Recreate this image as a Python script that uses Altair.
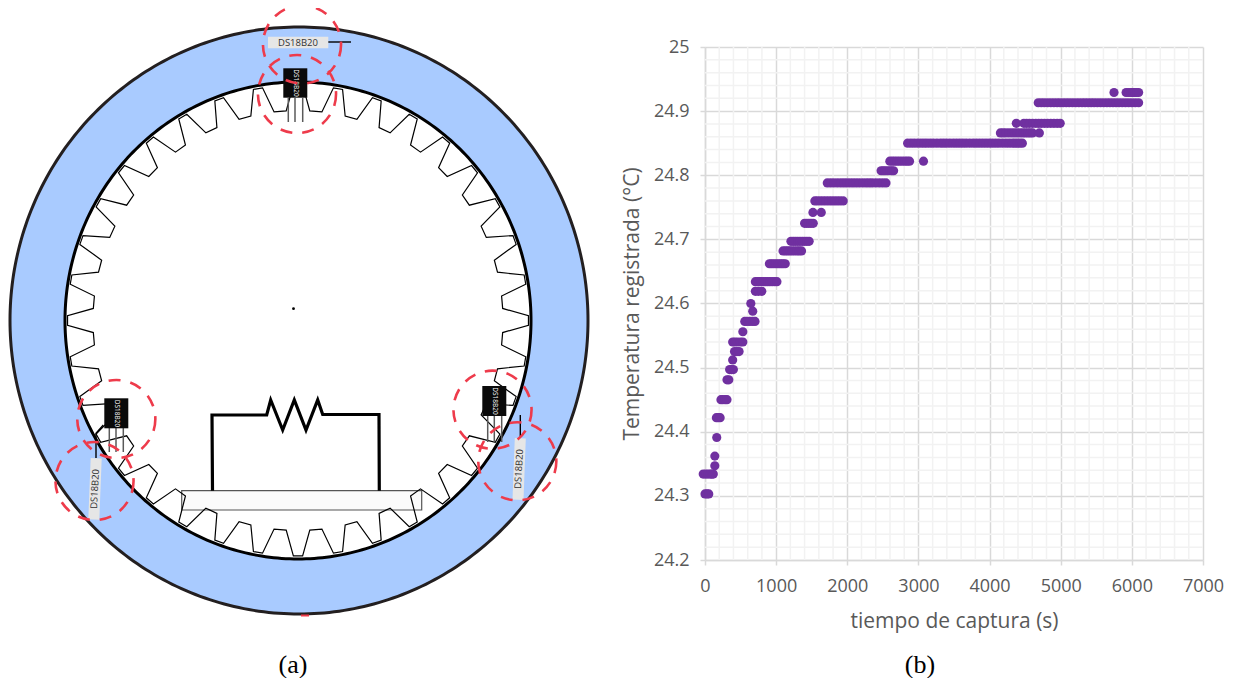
import numpy as np
import pandas as pd
import altair as alt

# ---------- panel (b): measured temperature ----------
LEVELS = [24.303, 24.334, 24.347, 24.362, 24.391, 24.422, 24.450, 24.481, 24.497, 24.512,
          24.525, 24.540, 24.556, 24.572, 24.588, 24.600, 24.619, 24.634, 24.662, 24.682,
          24.697, 24.725, 24.742, 24.760, 24.788, 24.807, 24.822, 24.850, 24.866, 24.881,
          24.913, 24.929]
TIMES = [
    [0, 28, 53],
    [-25, 10, 42, 75, 96, 117],
    [138],
    [138],
    [165],
    [160, 186, 213],
    [224, 250, 283, 309],
    [309, 335],
    [346, 372, 399],
    [389],
    [415, 448, 479],
    [389, 420, 455, 497, 532],
    [532],
    [559, 590, 628, 668, 703],
    [671],
    [644],
    [708, 750, 798],
    [708, 738, 765, 790, 820, 850, 880, 912, 945, 980, 1011],
    [905, 932, 960, 990, 1020, 1048, 1075, 1100, 1128],
    [1097, 1130, 1160, 1192, 1225, 1260, 1295, 1325, 1357],
    [1208, 1240, 1270, 1302, 1335, 1368, 1400, 1432, 1464],
    [1400, 1430, 1460, 1490, 1522],
    [1517, 1634],
    [1544, 1580, 1620, 1660, 1700, 1740, 1780, 1820, 1860, 1900, 1943],
    [1719, 1765, 1810, 1858, 1905, 1948, 1990, 2035, 2080, 2125, 2170, 2218, 2265, 2308, 2350, 2400, 2450, 2498, 2544],
    [2475, 2503, 2530, 2562, 2595, 2623, 2651],
    [2598, 2632, 2665, 2700, 2735, 2772, 2810, 2842, 2875, 3071],
    [2848, 2895, 2940, 2988, 3035, 3078, 3120, 3165, 3210, 3260, 3310, 3352, 3395, 3442, 3490, 3535,
     3580, 3625, 3670, 3720, 3770, 3815, 3860, 3905, 3950, 3995, 4040, 4085, 4130, 4180, 4230, 4275,
     4320, 4355, 4390, 4425, 4461],
    [4152, 4188, 4225, 4268, 4310, 4350, 4390, 4430, 4470, 4505, 4540, 4572, 4604, 4700],
    [4376, 4482, 4520, 4560, 4605, 4650, 4690, 4730, 4772, 4815, 4860, 4905, 4950, 4993],
    [4684, 4727, 4770, 4815, 4860, 4905, 4950, 4992, 5035, 5078, 5120, 5165, 5210, 5255, 5300, 5342,
     5385, 5428, 5470, 5515, 5560, 5605, 5650, 5692, 5735, 5778, 5820, 5865, 5910, 5955, 6000, 6048, 6095],
    [5749, 5919, 5955, 5990, 6015, 6040, 6068, 6095],
]
X_MAJOR = [0, 1000, 2000, 3000, 4000, 5000, 6000, 7000]
Y_MAJOR = [24.2, 24.3, 24.4, 24.5, 24.6, 24.7, 24.8, 24.9, 25.0]
X_MINOR = [v for v in range(0, 7001, 200) if v % 1000]
Y_MINOR = [round(24.2 + 0.02 * i, 2) for i in range(41) if i % 5]

# ---------- panel (a): schematic, in picture coordinates ----------
OUTER = (299, 320.5, 289, 293.5)
INNER = (298, 320.5, 233, 238.5)
GEAR_CENTER = (298, 320.5)
GEAR_ROOT = (230.5, 235.5)
GEAR_TIP = (205, 210)
TOOTH_PHASE = [-1.15, 1.15, 3.3, 6.7]
TOOTH_RADIUS = ["root", "root", "tip", "tip"]
N_TEETH = 36

PLATE = (181.7, 421.7, 490.7, 510)
CIRCUIT = [(212.5, 490.7), (212, 415), (266.7, 415), (270.7, 400), (282.7, 430), (294.3, 400),
           (306, 430), (317.7, 400), (322.7, 414.5), (379, 414.5), (379.3, 490.7)]
BLACK_BODY = [(283.3, 307.3, 68.3, 97.7), (104.3, 128.3, 398.3, 428.3), (482.3, 506.3, 386, 416)]
BODY_LABEL = [(295.5, 83), (116.5, 413.5), (494.5, 401)]
LEGS_X = [288.3, 295, 302.7, 109.3, 116, 123.3, 487.7, 494.3, 501.7]
LEGS_Y = [(98, 122)] * 3 + [(428, 452)] * 3 + [(416, 442)] * 3
WIRES = {
    "top": [(328, 42), (351, 42)],
    "left": [(103.3, 425), (96, 433.3), (96, 458)],
    "right": [(520.3, 415), (520.3, 438)],
}
GREY_TOP = (268, 328.3, 36.7, 48.3)
GREY_SIDE = [(96.2, 458.3, 93.8, 519.5), (520.3, 438.3, 518, 499.8)]
GREY_LABEL = [(298, 42.5, 0), (95, 489, 273), (519, 469, 273)]
DASH_CIRCLES = [(302, 44.5), (297, 94), (116.3, 419), (94.5, 481), (492.5, 409.7), (517.3, 461.3)]
CENTER_DOT = (293.5, 308.7)
RED_STUB = (301, 309, 615.5)
SENSOR_NAME = "DS18B20"
CAP_A = "(a)"
CAP_B = "(b)"

W_A, H = 606, 513
TOP, LEFT = 47, 8
xs = alt.X("x:Q", scale=alt.Scale(domain=[LEFT, LEFT + W_A], nice=False, zero=False), axis=None)
ys = alt.Y("y:Q", scale=alt.Scale(domain=[TOP + H, TOP], nice=False, zero=False), axis=None)
x2s = alt.X2("x2:Q")
y2s = alt.Y2("y2:Q")


def ellipse(c):
    t = np.linspace(0, 2 * np.pi, 361)
    return pd.DataFrame({"x": c[0] + c[2] * np.cos(t), "y": c[1] + c[3] * np.sin(t), "o": np.arange(361)})


def ellipse_fill(c):
    t = np.linspace(0, np.pi, 181)
    xv = c[0] + c[2] * np.cos(t)
    return pd.DataFrame({"x": xv, "y": c[1] - c[3] * np.sin(t), "y2": c[1] + c[3] * np.sin(t)})


def path(points, name="p"):
    return pd.DataFrame([{"x": p[0], "y": p[1], "o": i, "k": name} for i, p in enumerate(points)])


gear_pts = []
for k in range(N_TEETH):
    for ph, rk in zip(TOOTH_PHASE, TOOTH_RADIUS):
        a = np.radians(90 + 10 * k + ph)
        r = GEAR_ROOT if rk == "root" else GEAR_TIP
        gear_pts.append((GEAR_CENTER[0] - r[0] * np.cos(a), GEAR_CENTER[1] - r[1] * np.sin(a)))
gear_pts.append(gear_pts[0])


def line(df, **kw):
    return alt.Chart(df).mark_line(**kw).encode(x=xs, y=ys, order="o:Q", detail="k:N") if "k" in df else \
        alt.Chart(df).mark_line(**kw).encode(x=xs, y=ys, order="o:Q")


BLUE = "#A9CBFF"
layers = [
    alt.Chart(ellipse_fill(OUTER)).mark_area(color=BLUE, opacity=1).encode(x=xs, y=ys, y2=y2s),
    line(ellipse(OUTER), color="#231F20", strokeWidth=3),
    alt.Chart(ellipse_fill(INNER)).mark_area(color="white", opacity=1).encode(x=xs, y=ys, y2=y2s),
    line(ellipse(INNER), color="black", strokeWidth=3),
    alt.Chart(pd.DataFrame([dict(x=PLATE[0], x2=PLATE[1], y=PLATE[2], y2=PLATE[3])])).mark_rect(
        fill="#FBFBFB", stroke="#555555", strokeWidth=1.2).encode(x=xs, x2=x2s, y=ys, y2=y2s),
    line(path(gear_pts), color="black", strokeWidth=1.2, strokeJoin="miter"),
    line(path(CIRCUIT), color="black", strokeWidth=3.2, strokeJoin="miter"),
    alt.Chart(pd.DataFrame({"x": LEGS_X, "y": [v[0] for v in LEGS_Y], "y2": [v[1] for v in LEGS_Y]})).mark_rule(
        color="#5A5A5A", strokeWidth=1.5).encode(x=xs, y=ys, y2=y2s),
    line(pd.concat([path(v, k) for k, v in WIRES.items()]), color="black", strokeWidth=1.4),
    alt.Chart(pd.DataFrame([dict(x=GREY_TOP[0], x2=GREY_TOP[1], y=GREY_TOP[2], y2=GREY_TOP[3])])).mark_rect(
        fill="#E6E6E6").encode(x=xs, x2=x2s, y=ys, y2=y2s),
    alt.Chart(pd.DataFrame([dict(x=a, y=b, x2=c, y2=d) for a, b, c, d in GREY_SIDE])).mark_rule(
        color="#E6E6E6", strokeWidth=11).encode(x=xs, y=ys, x2=x2s, y2=y2s),
    alt.Chart(pd.DataFrame([dict(x=a, x2=b, y=c, y2=d) for a, b, c, d in BLACK_BODY])).mark_rect(
        fill="#0A0A0A").encode(x=xs, x2=x2s, y=ys, y2=y2s),
]
for x0, y0 in BODY_LABEL:
    layers.append(alt.Chart(pd.DataFrame([dict(x=x0, y=y0, t=SENSOR_NAME)])).mark_text(
        color="white", fontSize=6.5, angle=90, font="Open Sans").encode(x=xs, y=ys, text="t:N"))
for x0, y0, ang in GREY_LABEL:
    layers.append(alt.Chart(pd.DataFrame([dict(x=x0, y=y0, t=SENSOR_NAME)])).mark_text(
        color="#333333", fontSize=9.5, angle=ang, font="Open Sans").encode(x=xs, y=ys, text="t:N"))
layers += [
    alt.Chart(pd.DataFrame([dict(x=RED_STUB[0], x2=RED_STUB[1], y=RED_STUB[2])])).mark_rule(
        color="#EE3B4B", strokeWidth=2).encode(x=xs, x2=x2s, y=ys),
    alt.Chart(pd.DataFrame(DASH_CIRCLES, columns=["x", "y"])).mark_point(
        shape="circle", size=6100, filled=False, color="#EE3B4B", strokeWidth=2.6,
        strokeDash=[12, 10], opacity=1).encode(x=xs, y=ys),
    alt.Chart(pd.DataFrame([dict(x=CENTER_DOT[0], y=CENTER_DOT[1])])).mark_point(
        shape="circle", size=8, filled=True, color="black", opacity=1).encode(x=xs, y=ys),
    alt.Chart(pd.DataFrame([dict(x=293, y=665, t=CAP_A)])).mark_text(
        font="Liberation Serif", fontSize=26, color="black").encode(x=xs, y=ys, text="t:N"),
]
panel_a = alt.layer(*layers).properties(width=W_A, height=H)

# ---------- panel (b) ----------
pts = pd.DataFrame([{"t": t, "T": lv} for lv, ts in zip(LEVELS, TIMES) for t in ts])
X_SCALE = alt.Scale(domain=[0, 7000], nice=False, zero=False)
Y_SCALE = alt.Scale(domain=[24.2, 25], nice=False, zero=False)
MINOR = "#F2F2F2"
MAJOR = "#D9D9D9"
TXT = "#595959"
x_enc = alt.X("t:Q", scale=X_SCALE, title="tiempo de captura (s)",
              axis=alt.Axis(values=X_MAJOR, grid=True, gridColor=MAJOR, gridWidth=1.5, domainColor=MAJOR,
                            domainWidth=1.5, tickColor=MAJOR, tickWidth=1.5, tickSize=5, labelFont="Open Sans",
                            labelFontSize=18, labelColor=TXT, titleFont="Open Sans", titleFontSize=21,
                            titleFontWeight="normal", titleColor=TXT, titlePadding=15, labelPadding=12,
                            labelFlush=False, format="d"))
y_enc = alt.Y("T:Q", scale=Y_SCALE, title="Temperatura registrada (°C)",
              axis=alt.Axis(values=Y_MAJOR, grid=True, gridColor=MAJOR, gridWidth=1.5, domainColor=MAJOR,
                            domainWidth=1.5, tickColor=MAJOR, tickWidth=1.5, tickSize=5, labelFont="Open Sans",
                            labelFontSize=18, labelColor=TXT, titleFont="Open Sans", titleFontSize=21,
                            titleFontWeight="normal", titleColor=TXT, titlePadding=11, labelPadding=11,
                            format=".1~f"))
minor_x = alt.Chart(pd.DataFrame({"m": X_MINOR})).mark_rule(color=MINOR, strokeWidth=1.5).encode(
    x=alt.X("m:Q", scale=X_SCALE))
minor_y = alt.Chart(pd.DataFrame({"m": Y_MINOR})).mark_rule(color=MINOR, strokeWidth=1.5).encode(
    y=alt.Y("m:Q", scale=Y_SCALE))
dots = alt.Chart(pts).mark_circle(size=84, color="#7030A0", opacity=1).encode(x=x_enc, y=y_enc)
cap_b = alt.Chart(pd.DataFrame({"t": [CAP_B]})).mark_text(
    font="Liberation Serif", fontSize=26, color="black").encode(x=alt.value(215), y=alt.value(618), text="t:N")
panel_b = alt.layer(minor_x, minor_y, dots, cap_b).properties(width=498, height=H)

chart = alt.hconcat(panel_a, panel_b, spacing=7).properties(
    padding={"left": -4, "top": -8, "right": 0, "bottom": 0}).configure_view(stroke=None)
chart.save("out.html", embed_options={"renderer": "svg", "actions": False})
